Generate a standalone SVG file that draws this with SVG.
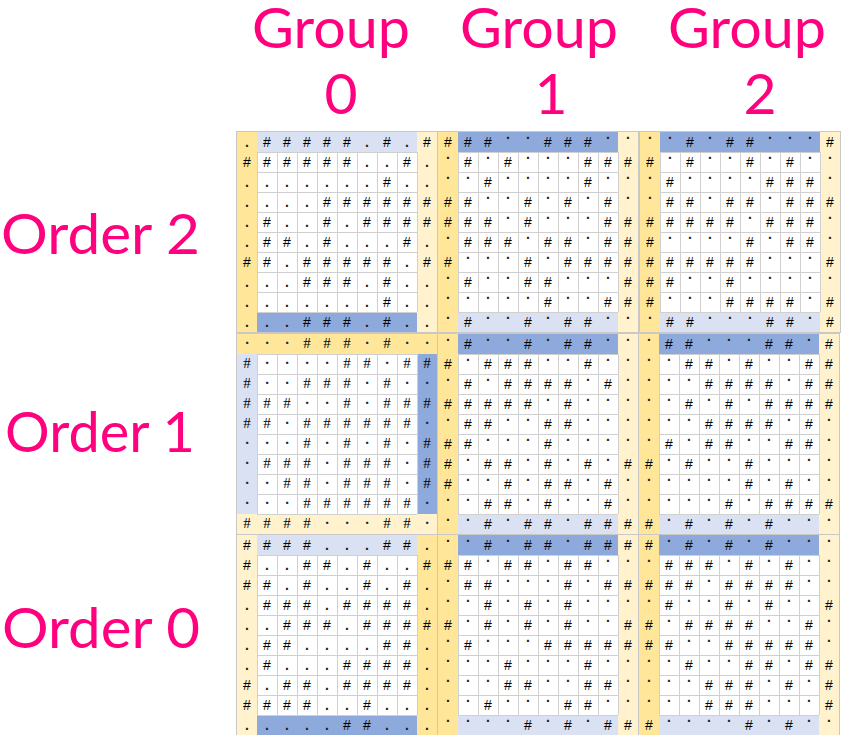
<svg xmlns="http://www.w3.org/2000/svg" xmlns:xlink="http://www.w3.org/1999/xlink" width="841" height="735" viewBox="0 0 841 735">
<style>
.t{font-family:"Liberation Sans",Arial,sans-serif;font-size:14px;fill:#000;text-anchor:middle}
.t2{font-family:"Liberation Serif","Times New Roman",serif;font-size:15px;fill:#000;text-anchor:middle}
.d{baseline-shift:8px;font-weight:bold;fill:#2a1a10}
.m{baseline-shift:4.5px;font-weight:bold;fill:#1a2a40}
.p{font-weight:bold;fill:#2a1a10}
.lbl{font-family:Lato,"Open Sans",sans-serif;fill:#FF007F;font-size:57px}
.y{fill:#FFE699}.ly{fill:#FFF2CC}.db{fill:#8EA9DB}.lb{fill:#D9E1F2}.w{fill:#FFFFFF}
.ol{fill:none;stroke:#C8C8C8;stroke-width:1}
</style>
<defs>
<path id="grid" d="M20 20V180M40 20V180M60 20V180M80 20V180M100 20V180M120 20V180M140 20V180M160 20V180M180 20V180M20 20H180M20 40H180M20 60H180M20 80H180M20 100H180M20 120H180M20 140H180M20 160H180M20 180H180" stroke="#D0D0D0" stroke-width="1" fill="none" shape-rendering="crispEdges"/>
<g id="typeA"><rect x="0" y="0" width="200" height="200" class="w"/><rect x="0" y="0" width="20" height="200" class="y"/><rect x="180" y="0" width="20" height="200" class="ly"/><rect x="20" y="0" width="160" height="20" class="lb"/><rect x="20" y="180" width="160" height="20" class="db"/><use xlink:href="#grid"/><rect x="-0.5" y="-0.5" width="201" height="201" class="ol"/></g>
<g id="typeB"><rect x="0" y="0" width="200" height="200" class="w"/><rect x="0" y="0" width="20" height="200" class="y"/><rect x="180" y="0" width="20" height="200" class="ly"/><rect x="20" y="0" width="160" height="20" class="db"/><rect x="20" y="180" width="160" height="20" class="lb"/><use xlink:href="#grid"/><rect x="-0.5" y="-0.5" width="201" height="201" class="ol"/></g>
<g id="typeC"><rect x="0" y="0" width="200" height="200" class="w"/><rect x="0" y="0" width="200" height="20" class="y"/><rect x="0" y="180" width="200" height="20" class="ly"/><rect x="0" y="20" width="20" height="160" class="lb"/><rect x="180" y="20" width="20" height="160" class="db"/><use xlink:href="#grid"/><rect x="-0.5" y="-0.5" width="201" height="201" class="ol"/></g>
<g id="typeD"><rect x="0" y="0" width="200" height="200" class="w"/><rect x="0" y="0" width="20" height="200" class="ly"/><rect x="180" y="0" width="20" height="200" class="y"/><rect x="20" y="0" width="160" height="20" class="lb"/><rect x="20" y="180" width="160" height="20" class="db"/><use xlink:href="#grid"/><rect x="-0.5" y="-0.5" width="201" height="201" class="ol"/></g>
</defs>

<g id="labels">
<text class="lbl" x="252" y="48" textLength="158" lengthAdjust="spacingAndGlyphs">Group</text>
<text class="lbl" x="460" y="48" textLength="158" lengthAdjust="spacingAndGlyphs">Group</text>
<text class="lbl" x="668" y="48" textLength="158" lengthAdjust="spacingAndGlyphs">Group</text>
<text class="lbl" x="341" y="114" text-anchor="middle">0</text>
<text class="lbl" x="551" y="114" text-anchor="middle">1</text>
<text class="lbl" x="760" y="114" text-anchor="middle">2</text>
<text class="lbl" x="1" y="254" textLength="199" lengthAdjust="spacingAndGlyphs">Order 2</text>
<text class="lbl" x="5" y="452" textLength="190" lengthAdjust="spacingAndGlyphs">Order 1</text>
<text class="lbl" x="2" y="648" textLength="198" lengthAdjust="spacingAndGlyphs">Order 0</text>
</g>

<g id="tile-o2-g0" transform="translate(237,132)">
<use xlink:href="#typeA"/>
<g class="t">
<text x="10 30 50 70 90 110 130 150 170 190" y="15"><tspan class="p">.</tspan>#####<tspan class="p">.</tspan>#<tspan class="p">.</tspan>#</text>
<text x="10 30 50 70 90 110 130 150 170 190" y="35">######<tspan class="p">..</tspan>#<tspan class="p">.</tspan></text>
<text x="10 30 50 70 90 110 130 150 170 190" y="55"><tspan class="p">.......</tspan>#<tspan class="p">..</tspan></text>
<text x="10 30 50 70 90 110 130 150 170 190" y="75"><tspan class="p">....</tspan>######</text>
<text x="10 30 50 70 90 110 130 150 170 190" y="95"><tspan class="p">.</tspan>#<tspan class="p">..</tspan>#<tspan class="p">.</tspan>####</text>
<text x="10 30 50 70 90 110 130 150 170 190" y="115"><tspan class="p">.</tspan>##<tspan class="p">.</tspan>#<tspan class="p">...</tspan>#<tspan class="p">.</tspan></text>
<text x="10 30 50 70 90 110 130 150 170 190" y="135">##<tspan class="p">.</tspan>#####<tspan class="p">.</tspan>#</text>
<text x="10 30 50 70 90 110 130 150 170 190" y="155"><tspan class="p">...</tspan>###<tspan class="p">.</tspan>#<tspan class="p">..</tspan></text>
<text x="10 30 50 70 90 110 130 150 170 190" y="175"><tspan class="p">.......</tspan>#<tspan class="p">..</tspan></text>
<text x="10 30 50 70 90 110 130 150 170 190" y="195"><tspan class="p">...</tspan>###<tspan class="p">.</tspan>#<tspan class="p">..</tspan></text>
</g>
</g>

<g id="tile-o2-g1" transform="translate(438,132)">
<use xlink:href="#typeB"/>
<g class="t">
<text x="10 30 50 70 90 110 130 150 170 190" y="15">###<tspan class="d">..</tspan>###<tspan class="d">..</tspan></text>
<text x="10 30 50 70 90 110 130 150 170 190" y="35"><tspan class="d">.</tspan>#<tspan class="d">.</tspan>#<tspan class="d">...</tspan>###</text>
<text x="10 30 50 70 90 110 130 150 170 190" y="55"><tspan class="d">..</tspan>#<tspan class="d">....</tspan>#<tspan class="d">..</tspan></text>
<text x="10 30 50 70 90 110 130 150 170 190" y="75">##<tspan class="d">..</tspan>#<tspan class="d">.</tspan>#<tspan class="d">.</tspan>#<tspan class="d">.</tspan></text>
<text x="10 30 50 70 90 110 130 150 170 190" y="95">###<tspan class="d">.</tspan>#<tspan class="d">...</tspan>##</text>
<text x="10 30 50 70 90 110 130 150 170 190" y="115"><tspan class="d">.</tspan>###<tspan class="d">.</tspan>##<tspan class="d">.</tspan>##</text>
<text x="10 30 50 70 90 110 130 150 170 190" y="135">#<tspan class="d">...</tspan>#<tspan class="d">.</tspan>####</text>
<text x="10 30 50 70 90 110 130 150 170 190" y="155"><tspan class="d">.</tspan>#<tspan class="d">..</tspan>##<tspan class="d">...</tspan>#</text>
<text x="10 30 50 70 90 110 130 150 170 190" y="175"><tspan class="d">.....</tspan>#<tspan class="d">..</tspan>##</text>
<text x="10 30 50 70 90 110 130 150 170 190" y="195"><tspan class="d">.</tspan>#<tspan class="d">..</tspan>#<tspan class="d">.</tspan>##<tspan class="d">..</tspan></text>
</g>
</g>

<g id="tile-o2-g2" transform="translate(640,132)">
<use xlink:href="#typeB"/>
<g class="t">
<text x="10 30 50 70 90 110 130 150 170 190" y="15"><tspan class="d">..</tspan>#<tspan class="d">.</tspan>##<tspan class="d">...</tspan>#</text>
<text x="10 30 50 70 90 110 130 150 170 190" y="35">#<tspan class="d">.</tspan>#<tspan class="d">..</tspan>#<tspan class="d">.</tspan>#<tspan class="d">..</tspan></text>
<text x="10 30 50 70 90 110 130 150 170 190" y="55"><tspan class="d">.</tspan>#<tspan class="d">....</tspan>###<tspan class="d">.</tspan></text>
<text x="10 30 50 70 90 110 130 150 170 190" y="75"><tspan class="d">.</tspan>##<tspan class="d">.</tspan>##<tspan class="d">.</tspan>###</text>
<text x="10 30 50 70 90 110 130 150 170 190" y="95">#####<tspan class="d">.</tspan>###<tspan class="d">.</tspan></text>
<text x="10 30 50 70 90 110 130 150 170 190" y="115">#<tspan class="d">....</tspan>#<tspan class="d">.</tspan>##<tspan class="d">.</tspan></text>
<text x="10 30 50 70 90 110 130 150 170 190" y="135">######<tspan class="d">...</tspan>#</text>
<text x="10 30 50 70 90 110 130 150 170 190" y="155">##<tspan class="d">..</tspan>#<tspan class="d">.....</tspan></text>
<text x="10 30 50 70 90 110 130 150 170 190" y="175">#<tspan class="d">...</tspan>####<tspan class="d">.</tspan>#</text>
<text x="10 30 50 70 90 110 130 150 170 190" y="195"><tspan class="d">.</tspan>##<tspan class="d">...</tspan>##<tspan class="d">.</tspan>#</text>
</g>
</g>

<g id="tile-o1-g0" transform="translate(237,334)">
<use xlink:href="#typeC"/>
<g class="t2">
<text x="10 30 50 70 90 110 130 150 170 190" y="14"><tspan class="m">...</tspan>###<tspan class="m">.</tspan>#<tspan class="m">..</tspan></text>
<text x="10 30 50 70 90 110 130 150 170 190" y="34">#<tspan class="m">....</tspan>##<tspan class="m">.</tspan>##</text>
<text x="10 30 50 70 90 110 130 150 170 190" y="54">#<tspan class="m">..</tspan>###<tspan class="m">.</tspan>#<tspan class="m">..</tspan></text>
<text x="10 30 50 70 90 110 130 150 170 190" y="74">###<tspan class="m">..</tspan>#<tspan class="m">.</tspan>###</text>
<text x="10 30 50 70 90 110 130 150 170 190" y="94">##<tspan class="m">.</tspan>######<tspan class="m">.</tspan></text>
<text x="10 30 50 70 90 110 130 150 170 190" y="114"><tspan class="m">...</tspan>#<tspan class="m">.</tspan>#<tspan class="m">.</tspan>#<tspan class="m">.</tspan>#</text>
<text x="10 30 50 70 90 110 130 150 170 190" y="134"><tspan class="m">.</tspan>###<tspan class="m">.</tspan>###<tspan class="m">.</tspan>#</text>
<text x="10 30 50 70 90 110 130 150 170 190" y="154"><tspan class="m">..</tspan>##<tspan class="m">.</tspan>###<tspan class="m">.</tspan>#</text>
<text x="10 30 50 70 90 110 130 150 170 190" y="174"><tspan class="m">...</tspan>######<tspan class="m">.</tspan></text>
<text x="10 30 50 70 90 110 130 150 170 190" y="194">####<tspan class="m">...</tspan>##<tspan class="m">.</tspan></text>
</g>
</g>

<g id="tile-o1-g1" transform="translate(438,334)">
<use xlink:href="#typeB"/>
<g class="t">
<text x="10 30 50 70 90 110 130 150 170 190" y="15"><tspan class="d">.</tspan>#<tspan class="d">..</tspan>#<tspan class="d">.</tspan>##<tspan class="d">..</tspan></text>
<text x="10 30 50 70 90 110 130 150 170 190" y="35">#<tspan class="d">.</tspan>###<tspan class="d">..</tspan>#<tspan class="d">..</tspan></text>
<text x="10 30 50 70 90 110 130 150 170 190" y="55"><tspan class="d">.</tspan>#<tspan class="d">.</tspan>####<tspan class="d">.</tspan>#<tspan class="d">.</tspan></text>
<text x="10 30 50 70 90 110 130 150 170 190" y="75">#####<tspan class="d">.</tspan>#<tspan class="d">...</tspan></text>
<text x="10 30 50 70 90 110 130 150 170 190" y="95"><tspan class="d">.</tspan>##<tspan class="d">..</tspan>##<tspan class="d">...</tspan></text>
<text x="10 30 50 70 90 110 130 150 170 190" y="115">##<tspan class="d">...</tspan>#<tspan class="d">....</tspan></text>
<text x="10 30 50 70 90 110 130 150 170 190" y="135">#<tspan class="d">.</tspan>##<tspan class="d">.</tspan>#<tspan class="d">.</tspan>#<tspan class="d">.</tspan>#</text>
<text x="10 30 50 70 90 110 130 150 170 190" y="155">#<tspan class="d">..</tspan>#<tspan class="d">.</tspan>##<tspan class="d">.</tspan>#<tspan class="d">.</tspan></text>
<text x="10 30 50 70 90 110 130 150 170 190" y="175"><tspan class="d">..</tspan>##<tspan class="d">.</tspan>#<tspan class="d">..</tspan>#<tspan class="d">.</tspan></text>
<text x="10 30 50 70 90 110 130 150 170 190" y="195"><tspan class="d">..</tspan>#<tspan class="d">.</tspan>##<tspan class="d">.</tspan>###</text>
</g>
</g>

<g id="tile-o1-g2" transform="translate(639,334)">
<use xlink:href="#typeB"/>
<g class="t">
<text x="10 30 50 70 90 110 130 150 170 190" y="15"><tspan class="d">.</tspan>##<tspan class="d">...</tspan>##<tspan class="d">.</tspan>#</text>
<text x="10 30 50 70 90 110 130 150 170 190" y="35"><tspan class="d">..</tspan>##<tspan class="d">.</tspan>#<tspan class="d">..</tspan>##</text>
<text x="10 30 50 70 90 110 130 150 170 190" y="55"><tspan class="d">...</tspan>####<tspan class="d">.</tspan>##</text>
<text x="10 30 50 70 90 110 130 150 170 190" y="75"><tspan class="d">..</tspan>#<tspan class="d">.</tspan>#<tspan class="d">.</tspan>####</text>
<text x="10 30 50 70 90 110 130 150 170 190" y="95"><tspan class="d">...</tspan>####<tspan class="d">.</tspan>#<tspan class="d">.</tspan></text>
<text x="10 30 50 70 90 110 130 150 170 190" y="115"><tspan class="d">.</tspan>#<tspan class="d">.</tspan>##<tspan class="d">..</tspan>##<tspan class="d">.</tspan></text>
<text x="10 30 50 70 90 110 130 150 170 190" y="135">#<tspan class="d">.</tspan>#<tspan class="d">..</tspan>#<tspan class="d">....</tspan></text>
<text x="10 30 50 70 90 110 130 150 170 190" y="155"><tspan class="d">.....</tspan>#<tspan class="d">.</tspan>#<tspan class="d">..</tspan></text>
<text x="10 30 50 70 90 110 130 150 170 190" y="175"><tspan class="d">....</tspan>#<tspan class="d">.</tspan>####</text>
<text x="10 30 50 70 90 110 130 150 170 190" y="195">#<tspan class="d">.</tspan>#<tspan class="d">.</tspan>#<tspan class="d">.</tspan>#<tspan class="d">...</tspan></text>
</g>
</g>

<g id="tile-o0-g0" transform="translate(237,535)">
<use xlink:href="#typeD"/>
<g class="t">
<text x="10 30 50 70 90 110 130 150 170 190" y="15">####<tspan class="p">...</tspan>##<tspan class="p">.</tspan></text>
<text x="10 30 50 70 90 110 130 150 170 190" y="35">#<tspan class="p">..</tspan>##<tspan class="p">.</tspan>#<tspan class="p">..</tspan>#</text>
<text x="10 30 50 70 90 110 130 150 170 190" y="55">##<tspan class="p">.</tspan>#<tspan class="p">..</tspan>#<tspan class="p">.</tspan>#<tspan class="p">.</tspan></text>
<text x="10 30 50 70 90 110 130 150 170 190" y="75"><tspan class="p">.</tspan>###<tspan class="p">.</tspan>####<tspan class="p">.</tspan></text>
<text x="10 30 50 70 90 110 130 150 170 190" y="95"><tspan class="p">..</tspan>###<tspan class="p">.</tspan>####</text>
<text x="10 30 50 70 90 110 130 150 170 190" y="115"><tspan class="p">.</tspan>##<tspan class="p">....</tspan>##<tspan class="p">.</tspan></text>
<text x="10 30 50 70 90 110 130 150 170 190" y="135"><tspan class="p">.</tspan>#<tspan class="p">...</tspan>####<tspan class="p">.</tspan></text>
<text x="10 30 50 70 90 110 130 150 170 190" y="155">#<tspan class="p">.</tspan>##<tspan class="p">.</tspan>####<tspan class="p">.</tspan></text>
<text x="10 30 50 70 90 110 130 150 170 190" y="175">####<tspan class="p">..</tspan>#<tspan class="p">...</tspan></text>
<text x="10 30 50 70 90 110 130 150 170 190" y="195"><tspan class="p">.....</tspan>##<tspan class="p">...</tspan></text>
</g>
</g>

<g id="tile-o0-g1" transform="translate(438,535)">
<use xlink:href="#typeB"/>
<g class="t">
<text x="10 30 50 70 90 110 130 150 170 190" y="15"><tspan class="d">..</tspan>#<tspan class="d">.</tspan>##<tspan class="d">.</tspan>###</text>
<text x="10 30 50 70 90 110 130 150 170 190" y="35">##<tspan class="d">.</tspan>##<tspan class="d">.</tspan>##<tspan class="d">..</tspan></text>
<text x="10 30 50 70 90 110 130 150 170 190" y="55"><tspan class="d">.</tspan>##<tspan class="d">...</tspan>#<tspan class="d">.</tspan>##</text>
<text x="10 30 50 70 90 110 130 150 170 190" y="75"><tspan class="d">..</tspan>#<tspan class="d">.</tspan>#<tspan class="d">.</tspan>#<tspan class="d">...</tspan></text>
<text x="10 30 50 70 90 110 130 150 170 190" y="95">#<tspan class="d">.</tspan>#<tspan class="d">.</tspan>#<tspan class="d">.</tspan>#<tspan class="d">..</tspan>#</text>
<text x="10 30 50 70 90 110 130 150 170 190" y="115"><tspan class="d">.</tspan>#<tspan class="d">...</tspan>#####</text>
<text x="10 30 50 70 90 110 130 150 170 190" y="135"><tspan class="d">...</tspan>#<tspan class="d">...</tspan>#<tspan class="d">..</tspan></text>
<text x="10 30 50 70 90 110 130 150 170 190" y="155"><tspan class="d">...</tspan>##<tspan class="d">..</tspan>##<tspan class="d">.</tspan></text>
<text x="10 30 50 70 90 110 130 150 170 190" y="175"><tspan class="d">..</tspan>#<tspan class="d">...</tspan>##<tspan class="d">..</tspan></text>
<text x="10 30 50 70 90 110 130 150 170 190" y="195"><tspan class="d">....</tspan>#<tspan class="d">.</tspan>#<tspan class="d">.</tspan>##</text>
</g>
</g>

<g id="tile-o0-g2" transform="translate(639,535)">
<use xlink:href="#typeB"/>
<g class="t">
<text x="10 30 50 70 90 110 130 150 170 190" y="15">#<tspan class="d">.</tspan>#<tspan class="d">.</tspan>#<tspan class="d">.</tspan>#<tspan class="d">...</tspan></text>
<text x="10 30 50 70 90 110 130 150 170 190" y="35"><tspan class="d">.</tspan>###<tspan class="d">.</tspan>#<tspan class="d">.</tspan>#<tspan class="d">..</tspan></text>
<text x="10 30 50 70 90 110 130 150 170 190" y="55">###<tspan class="d">.</tspan>####<tspan class="d">..</tspan></text>
<text x="10 30 50 70 90 110 130 150 170 190" y="75"><tspan class="d">.</tspan>#<tspan class="d">..</tspan>#<tspan class="d">.</tspan>#<tspan class="d">..</tspan>#</text>
<text x="10 30 50 70 90 110 130 150 170 190" y="95">#<tspan class="d">.</tspan>####<tspan class="d">..</tspan>#<tspan class="d">.</tspan></text>
<text x="10 30 50 70 90 110 130 150 170 190" y="115">##<tspan class="d">..</tspan>#####<tspan class="d">.</tspan></text>
<text x="10 30 50 70 90 110 130 150 170 190" y="135"><tspan class="d">..</tspan>#<tspan class="d">..</tspan>##<tspan class="d">.</tspan>##</text>
<text x="10 30 50 70 90 110 130 150 170 190" y="155"><tspan class="d">...</tspan>###<tspan class="d">.</tspan>#<tspan class="d">.</tspan>#</text>
<text x="10 30 50 70 90 110 130 150 170 190" y="175"><tspan class="d">...</tspan>###<tspan class="d">...</tspan>#</text>
<text x="10 30 50 70 90 110 130 150 170 190" y="195">#<tspan class="d">....</tspan>#<tspan class="d">.</tspan>#<tspan class="d">..</tspan></text>
</g>
</g>
</svg>
